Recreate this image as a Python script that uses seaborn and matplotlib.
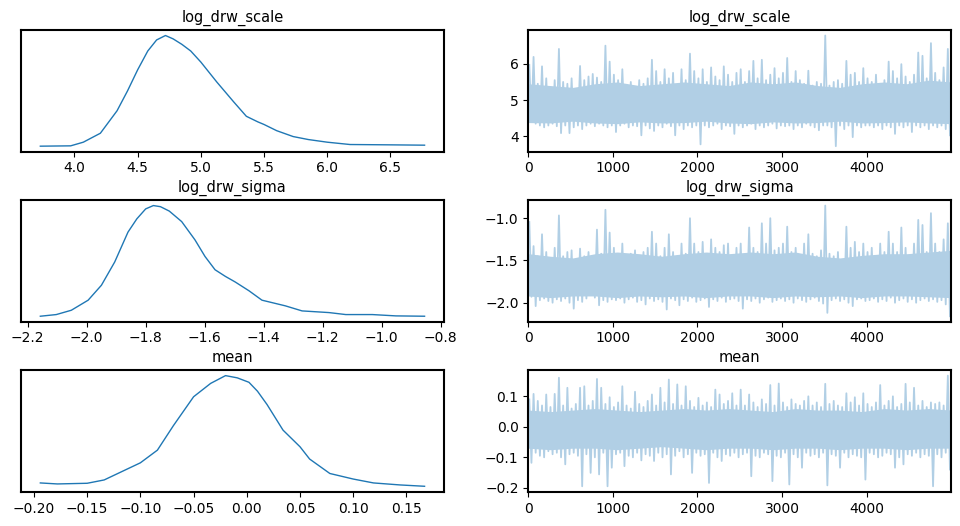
import numpy as np
import pandas as pd
import seaborn as sns
import matplotlib
matplotlib.use("Agg")
import matplotlib.pyplot as plt

# variable names (one row per variable)
var_names = ["log_drw_scale", "log_drw_sigma", "mean"]

# KDE curves (x value, relative density)
kde_scale_x = [3.73, 3.97, 4.07, 4.205, 4.337, 4.42, 4.5, 4.58, 4.65, 4.72, 4.78, 4.85, 4.92,
               5.0, 5.126, 5.26, 5.36, 5.45, 5.5, 5.6, 5.73, 5.85, 6.0, 6.18, 6.5, 6.77]
kde_scale_y = [0.0, 0.003, 0.036, 0.117, 0.32, 0.5, 0.69, 0.86, 0.96, 1.0, 0.97, 0.92, 0.86,
               0.76, 0.58, 0.40, 0.27, 0.22, 0.196, 0.14, 0.087, 0.06, 0.036, 0.015, 0.012, 0.009]

kde_sigma_x = [-2.157, -2.103, -2.052, -1.995, -1.95, -1.905, -1.86, -1.83, -1.8, -1.774, -1.75,
               -1.72, -1.678, -1.633, -1.599, -1.565, -1.53, -1.497, -1.45, -1.406, -1.327,
               -1.27, -1.179, -1.122, -1.032, -0.952, -0.855]
kde_sigma_y = [0.0, 0.015, 0.054, 0.145, 0.28, 0.49, 0.76, 0.88, 0.97, 1.0, 0.99,
               0.95, 0.855, 0.69, 0.54, 0.42, 0.36, 0.31, 0.23, 0.145, 0.094,
               0.048, 0.033, 0.015, 0.015, 0.003, 0.0]

kde_mean_x = [-0.194, -0.178, -0.15, -0.134, -0.119, -0.1, -0.084, -0.069, -0.05, -0.034,
              -0.02, -0.009, 0.002, 0.01, 0.019, 0.034, 0.05, 0.059, 0.078, 0.1, 0.119, 0.144, 0.167]
kde_mean_y = [0.035, 0.026, 0.032, 0.062, 0.13, 0.216, 0.33, 0.55, 0.81, 0.93,
              1.0, 0.98, 0.94, 0.86, 0.74, 0.51, 0.36, 0.25, 0.12, 0.07, 0.035, 0.017, 0.005]

# trace: highest and lowest sample in each block of 50 draws (100 blocks)
peaks_scale = [5.97, 6.19, 5.45, 5.93, 5.6, 5.35, 5.55, 6.41, 5.5, 5.45,
               5.6, 5.3, 5.94, 5.55, 5.65, 5.72, 5.62, 5.5, 6.5, 6.06,
               5.7, 5.55, 5.85, 5.4, 5.5, 5.35, 5.55, 5.45, 5.6, 6.11,
               5.8, 5.5, 5.85, 5.6, 5.75, 5.4, 5.85, 5.55, 6.28, 5.8,
               5.6, 5.85, 5.5, 5.9, 5.65, 5.55, 5.93, 5.7, 5.5, 5.75,
               5.85, 5.5, 5.8, 6.08, 5.6, 6.11, 5.55, 5.7, 5.88, 5.6,
               5.75, 6.16, 5.5, 5.8, 5.55, 5.45, 5.81, 5.4, 5.5, 5.45,
               6.78, 5.4, 5.5, 5.55, 5.45, 6.08, 5.7, 5.75, 5.5, 5.88,
               5.6, 5.5, 5.7, 5.45, 5.55, 6.06, 5.8, 5.6, 5.99, 5.65,
               5.5, 5.7, 6.31, 6.22, 5.6, 6.57, 5.75, 5.55, 5.9, 6.41]
troughs_scale = [4.4, 4.35, 4.3, 4.25, 4.3, 4.35, 4.28, 4.09, 4.3, 4.09,
                 4.25, 4.3, 4.2, 4.3, 4.35, 4.28, 4.35, 4.3, 4.25, 4.3,
                 4.12, 4.3, 4.35, 4.25, 4.3, 4.28, 4.03, 4.3, 4.22, 4.15,
                 4.3, 4.25, 4.35, 4.28, 4.03, 4.3, 4.2, 4.3, 4.25, 4.3,
                 3.78, 4.3, 4.25, 4.3, 4.35, 4.2, 4.3, 4.28, 4.07, 4.3,
                 4.25, 4.3, 4.35, 4.2, 4.3, 4.25, 4.3, 4.35, 4.22, 4.3,
                 4.28, 4.3, 4.2, 4.3, 4.25, 4.35, 4.3, 4.25, 4.17, 4.3,
                 4.3, 4.25, 3.73, 4.3, 4.2, 4.3, 3.98, 4.3, 4.25, 4.3,
                 4.3, 4.25, 4.3, 4.2, 4.3, 4.25, 4.07, 4.3, 4.25, 4.3,
                 4.12, 4.3, 4.25, 4.3, 4.2, 4.3, 4.25, 4.3, 4.2, 4.03]

peaks_sigma = [-1.045, -1.33, -1.45, -1.19, -1.4, -1.5, -1.35, -0.967, -1.45, -1.4,
               -1.38, -1.5, -1.36, -1.45, -1.4, -1.48, -1.135, -1.42, -0.9, -1.17,
               -1.35, -1.45, -1.3, -1.5, -1.42, -1.38, -1.45, -1.4, -1.35, -1.16,
               -1.3, -1.45, -1.35, -1.19, -1.4, -1.45, -1.3, -1.42, -1.0, -1.3,
               -1.4, -1.28, -1.45, -1.25, -1.35, -1.4, -1.32, -1.3, -1.45, -1.35,
               -1.3, -1.45, -1.11, -1.35, -1.4, -1.06, -1.3, -1.0, -1.38, -1.35,
               -1.3, -1.1, -1.4, -1.35, -1.45, -1.3, -1.19, -1.42, -1.45, -1.38,
               -0.85, -1.42, -1.45, -1.4, -1.5, -1.1, -1.35, -1.28, -1.4, -1.3,
               -1.4, -1.35, -1.45, -1.3, -1.4, -1.16, -1.3, -1.4, -1.11, -1.35,
               -1.45, -1.3, -1.02, -1.08, -1.4, -0.94, -1.3, -1.4, -1.25, -1.06]
troughs_sigma = [-1.93, -2.04, -1.97, -1.95, -1.98, -2.0, -1.96, -1.98, -1.95, -2.0,
                 -2.07, -1.97, -1.99, -1.95, -1.9, -1.94, -2.03, -1.97, -1.99, -1.96,
                 -1.97, -1.95, -2.0, -1.96, -1.94, -1.99, -1.97, -2.02, -1.95, -1.98,
                 -1.96, -1.99, -2.08, -1.95, -1.97, -2.03, -1.96, -1.98, -1.94, -1.99,
                 -1.97, -1.95, -2.05, -1.96, -1.98, -1.94, -1.99, -1.96, -1.95, -1.98,
                 -2.07, -1.96, -1.98, -1.95, -2.0, -1.96, -1.94, -1.99, -1.97, -1.95,
                 -1.98, -1.96, -2.0, -1.95, -1.97, -1.99, -1.96, -1.94, -1.98, -2.01,
                 -2.12, -1.97, -1.95, -1.98, -1.96, -2.0, -2.04, -1.96, -1.95, -1.98,
                 -1.97, -1.95, -1.99, -1.96, -1.98, -1.94, -2.0, -1.97, -1.95, -1.99,
                 -1.96, -2.0, -1.97, -1.95, -1.98, -1.96, -1.99, -1.97, -2.02, -2.16]

peaks_mean = [0.09, 0.108, 0.085, 0.07, 0.106, 0.065, 0.108, 0.161, 0.07, 0.128,
              0.06, 0.075, 0.128, 0.133, 0.07, 0.085, 0.157, 0.128, 0.075, 0.097,
              0.065, 0.08, 0.133, 0.07, 0.06, 0.115, 0.075, 0.065, 0.085, 0.106,
              0.07, 0.128, 0.08, 0.155, 0.075, 0.139, 0.07, 0.133, 0.085, 0.065,
              0.095, 0.07, 0.08, 0.065, 0.122, 0.106, 0.075, 0.085, 0.11, 0.07,
              0.122, 0.07, 0.106, 0.08, 0.065, 0.09, 0.075, 0.137, 0.07, 0.142,
              0.08, 0.065, 0.09, 0.075, 0.07, 0.085, 0.1, 0.07, 0.08, 0.065,
              0.141, 0.075, 0.085, 0.07, 0.065, 0.11, 0.08, 0.097, 0.07, 0.11,
              0.075, 0.065, 0.08, 0.137, 0.07, 0.085, 0.1, 0.065, 0.075, 0.141,
              0.08, 0.128, 0.07, 0.085, 0.065, 0.08, 0.075, 0.08, 0.07, 0.168]
troughs_mean = [-0.118, -0.085, -0.095, -0.1, -0.08, -0.09, -0.085, -0.1, -0.123, -0.09,
                -0.085, -0.095, -0.195, -0.09, -0.151, -0.1, -0.156, -0.085, -0.195, -0.134,
                -0.09, -0.085, -0.129, -0.095, -0.1, -0.085, -0.11, -0.09, -0.095, -0.112,
                -0.085, -0.1, -0.09, -0.156, -0.095, -0.08, -0.1, -0.09, -0.151, -0.085,
                -0.095, -0.09, -0.184, -0.085, -0.1, -0.112, -0.09, -0.095, -0.085, -0.1,
                -0.09, -0.085, -0.162, -0.095, -0.1, -0.085, -0.09, -0.178, -0.095, -0.1,
                -0.085, -0.189, -0.09, -0.1, -0.134, -0.085, -0.095, -0.09, -0.1, -0.085,
                -0.192, -0.09, -0.095, -0.134, -0.085, -0.1, -0.09, -0.095, -0.1, -0.173,
                -0.085, -0.09, -0.1, -0.095, -0.085, -0.09, -0.134, -0.1, -0.123, -0.09,
                -0.095, -0.085, -0.1, -0.09, -0.095, -0.195, -0.09, -0.1, -0.085, -0.14]

# dense core of each trace (where nearly every draw falls), every 250 draws
core_hi_scale = [5.45, 5.4, 5.35, 5.45, 5.5, 5.4, 5.45, 5.5, 5.45, 5.4,
                 5.5, 5.45, 5.5, 5.4, 5.35, 5.45, 5.5, 5.45, 5.55, 5.5]
core_lo_scale = [4.38, 4.37, 4.42, 4.37, 4.35, 4.4, 4.37, 4.38, 4.42, 4.37,
                 4.35, 4.4, 4.37, 4.38, 4.42, 4.37, 4.38, 4.4, 4.37, 4.35]
core_hi_sigma = [-1.42, -1.45, -1.47, -1.42, -1.4, -1.42, -1.45, -1.42, -1.4, -1.42,
                 -1.4, -1.42, -1.4, -1.45, -1.47, -1.44, -1.42, -1.42, -1.4, -1.38]
core_lo_sigma = [-1.92, -1.94, -1.92, -1.92, -1.94, -1.92, -1.93, -1.92, -1.94, -1.92,
                 -1.92, -1.94, -1.92, -1.93, -1.92, -1.94, -1.92, -1.92, -1.93, -1.94]
core_hi_mean = [0.055, 0.05, 0.055, 0.06, 0.055, 0.05, 0.055, 0.06, 0.055, 0.06,
                0.055, 0.05, 0.06, 0.055, 0.055, 0.05, 0.06, 0.055, 0.06, 0.055]
core_lo_mean = [-0.07, -0.075, -0.07, -0.07, -0.075, -0.07, -0.065, -0.07, -0.075, -0.07,
                -0.07, -0.075, -0.07, -0.07, -0.075, -0.07, -0.07, -0.075, -0.07, -0.07]

n_draws = 5000
block = 50

kdes = [(kde_scale_x, kde_scale_y), (kde_sigma_x, kde_sigma_y), (kde_mean_x, kde_mean_y)]
traces = [(peaks_scale, troughs_scale), (peaks_sigma, troughs_sigma), (peaks_mean, troughs_mean)]
cores = [(core_hi_scale, core_lo_scale), (core_hi_sigma, core_lo_sigma), (core_hi_mean, core_lo_mean)]

# C0 at alpha 0.35 over white, kept opaque so overlaps don't darken
trace_color = "#b1cfe5"

plt.rcParams["font.family"] = ["DejaVu Sans"]
plt.rcParams["axes.linewidth"] = 1.5
plt.rcParams["xtick.labelsize"] = 10
plt.rcParams["ytick.labelsize"] = 10

fig, axes = plt.subplots(3, 2, figsize=(9.6, 5.26), dpi=100)
fig.subplots_adjust(left=0.022, right=0.9906, top=0.943, bottom=0.065, wspace=0.2, hspace=0.397)

for i, name in enumerate(var_names):
    # density on the left
    kx, ky = kdes[i]
    ax = axes[i, 0]
    sns.lineplot(x=kx, y=ky, ax=ax, color="C0", linewidth=1.0, sort=False)
    ax.set_yticks([])
    ax.set_ylabel("")
    ax.set_title(name, fontsize=10.5)

    # trace on the right
    ax = axes[i, 1]
    chi, clo = cores[i]
    cx = np.linspace(0, n_draws - 1, len(chi))
    ax.fill_between(cx, clo, chi, color=trace_color, linewidth=0)

    pk, tr = traces[i]
    starts = np.arange(0, n_draws, block)
    df = pd.DataFrame({
        "draw": np.concatenate([starts + 12, starts + 37]),
        "value": np.concatenate([pk, tr]),
    }).sort_values("draw")
    sns.lineplot(data=df, x="draw", y="value", ax=ax, color=trace_color,
                 linewidth=1.3, estimator=None)
    ax.set_xlim(0, n_draws - 1)
    ax.set_xlabel("")
    ax.set_ylabel("")
    ax.set_title(name, fontsize=10.5)
    ax.set_xticks([0, 1000, 2000, 3000, 4000])
    lo = min(tr)
    hi = max(pk)
    pad = (hi - lo) * 0.05
    ax.set_ylim(lo - pad, hi + pad)

fig.savefig("out.png", dpi=100)
